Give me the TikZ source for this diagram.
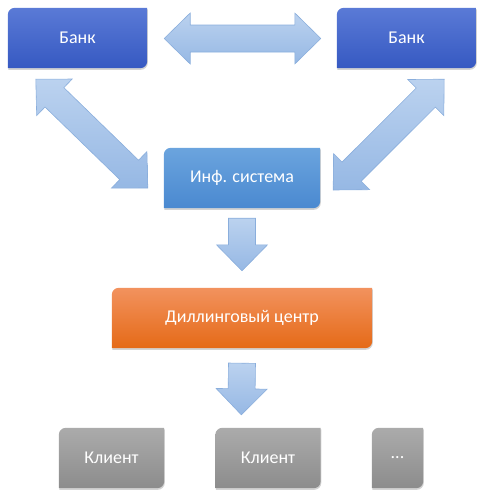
\documentclass[tikz,border=0pt]{standalone}
\usepackage{fontspec}
\setmainfont{Carlito}
\usetikzlibrary{calc, backgrounds, shadows}

\definecolor{bankTop}{HTML}{5A7AD6}
\definecolor{bankBot}{HTML}{3659C2}
\definecolor{infTop}{HTML}{6BA4DE}
\definecolor{infBot}{HTML}{4A89D0}
\definecolor{dealTop}{HTML}{F2925E}
\definecolor{dealBot}{HTML}{E56A17}
\definecolor{cliTop}{HTML}{ABABAB}
\definecolor{cliBot}{HTML}{8C8C8C}
\definecolor{arrTop}{HTML}{BBD2EF}
\definecolor{arrBot}{HTML}{96B8E4}
\definecolor{arrLine}{HTML}{8AAEDC}

\tikzset{
  box/.style={inner sep=0pt, text=white, font=\fontsize{18}{21}\selectfont},
  bankbox/.style={box, minimum width=139pt, minimum height=60pt},
  infbox/.style={box, minimum width=156pt, minimum height=60pt},
  dealbox/.style={box, minimum width=260pt, minimum height=60pt},
  clibox/.style={box, minimum width=105pt, minimum height=60pt},
  blockarrow/.style={top color=arrTop, bottom color=arrBot, draw=arrLine, line width=0.6pt}
}

% shaft half width, head half width, head length
\newcommand{\aS}{13.5pt}
\newcommand{\aH}{25.5pt}
\newcommand{\aL}{26pt}

\newcommand{\dblarrow}[2]{%
  \path[blockarrow] (#1) -- ($(#1)!\aL!(#2)!\aH!90:(#2)$) -- ($(#1)!\aL!(#2)!\aS!90:(#2)$)
    -- ($(#2)!\aL!(#1)!\aS!-90:(#1)$) -- ($(#2)!\aL!(#1)!\aH!-90:(#1)$) -- (#2)
    -- ($(#2)!\aL!(#1)!\aH!90:(#1)$) -- ($(#2)!\aL!(#1)!\aS!90:(#1)$)
    -- ($(#1)!\aL!(#2)!\aS!-90:(#2)$) -- ($(#1)!\aL!(#2)!\aH!-90:(#2)$) -- cycle;}
\newcommand{\onearrow}[2]{%
  \path[blockarrow] ($(#1)!\aS!90:(#2)$) -- ($(#2)!\aL!(#1)!\aS!-90:(#1)$)
    -- ($(#2)!\aL!(#1)!\aH!-90:(#1)$) -- (#2) -- ($(#2)!\aL!(#1)!\aH!90:(#1)$)
    -- ($(#2)!\aL!(#1)!\aS!90:(#1)$) -- ($(#1)!\aS!-90:(#2)$) -- cycle;}

\begin{document}
\begin{tikzpicture}[x=1pt,y=-1pt]
\useasboundingbox (0,0) rectangle (485,498);
% boxes
\node[bankbox] (bankL) at (77.5,38) {Банк};
\node[bankbox] (bankR) at (406.5,38) {Банк};
\node[infbox] (inf) at (242,178) {Инф. система};
\node[dealbox] (deal) at (242,318) {Диллинговый центр};
\node[clibox] (cliA) at (111.5,458) {Клиент};
\node[clibox] (cliB) at (268,458) {Клиент};
\node[box, minimum width=51pt, minimum height=60pt] (more) at (397.5,458) {...};

\begin{scope}[on background layer]
\foreach \n/\t/\b in {bankL/bankTop/bankBot, bankR/bankTop/bankBot, inf/infTop/infBot,
  deal/dealTop/dealBot, cliA/cliTop/cliBot, cliB/cliTop/cliBot, more/cliTop/cliBot}
  \shade[top color=\t, bottom color=\b, drop shadow={shadow xshift=0.6pt, shadow yshift=-1.6pt, opacity=0.35}]
    ([xshift=7pt]\n.north west) -- (\n.north east) -- ([yshift=7pt]\n.south east)
    arc[start angle=0, end angle=-90, radius=7pt] -- (\n.south west)
    -- ([yshift=-7pt]\n.north west) arc[start angle=180, end angle=90, radius=7pt] -- cycle;
\end{scope}

% arrow ends
\coordinate (hA) at ($(bankL.east)+(17,0.5)$);
\coordinate (hB) at ($(bankR.west)+(-16,0.5)$);
\coordinate (lA) at ($(bankL.south west)+(28,11)$);
\coordinate (lB) at ($(inf.west)+(-16,10)$);
\coordinate (rA) at ($(bankR.south east)+(-32,11)$);
\coordinate (rB) at ($(inf.east)+(13,12)$);
\coordinate (dA) at ($(inf.south)+(0,10)$);
\coordinate (dB) at ($(deal.north)+(0,-17)$);
\coordinate (eA) at ($(deal.south)+(0,15)$);
\coordinate (eB) at ($(cliB.north west)+(26,-13)$);

\dblarrow{hA}{hB}
\dblarrow{lA}{lB}
\dblarrow{rA}{rB}
\onearrow{dA}{dB}
\onearrow{eA}{eB}
\end{tikzpicture}
\end{document}
